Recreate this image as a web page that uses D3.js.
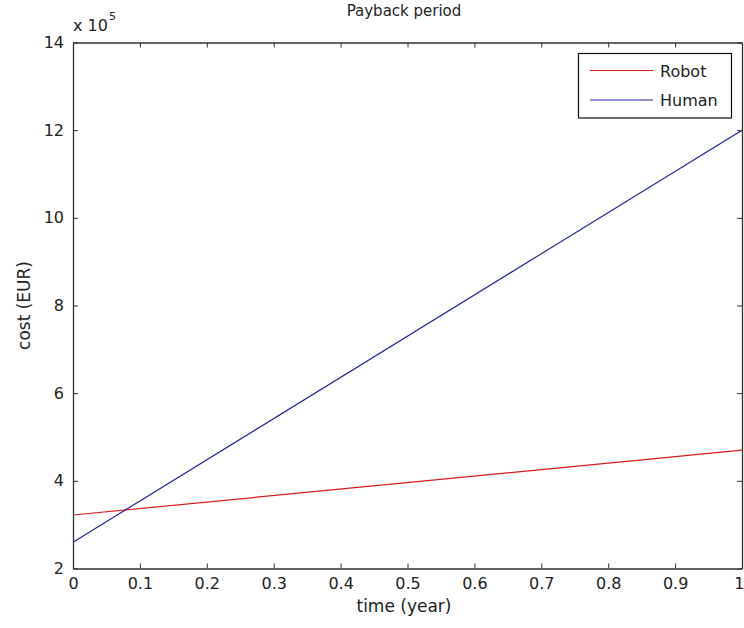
<!DOCTYPE html>
<html>
<head>
<meta charset="utf-8">
<script src="https://cdn.jsdelivr.net/npm/d3@7"></script>
<style>
  body { margin: 0; background: #fff; }
  text { font-family: "DejaVu Sans", sans-serif; fill: #222; }
</style>
</head>
<body>
<svg id="chart" width="744" height="628"></svg>
<script>
const years = [0, 1];
const robotCost = [322000, 470000];
const humanCost = [260000, 1200000];
const xTicks = [0, 0.1, 0.2, 0.3, 0.4, 0.5, 0.6, 0.7, 0.8, 0.9, 1];
const yTicks = [2, 4, 6, 8, 10, 12, 14];
const seriesNames = ["Robot", "Human"];
const seriesColors = ["#e01a1a", "#25259c"];

const svg = d3.select("#chart");
const margin = {left: 73, right: 2, top: 42.5, bottom: 59.5};
const width = 744, height = 628;

const x = d3.scaleLinear().domain([0, 1]).range([margin.left, width - margin.right]);
const y = d3.scaleLinear().domain([2e5, 14e5]).range([height - margin.bottom, margin.top]);

const g = svg.append("g");

// lines
const line = d3.line().x(d => x(d[0])).y(d => y(d[1]));
const series = [robotCost, humanCost].map(vals => years.map((t, i) => [t, vals[i]]));
series.forEach((s, i) => {
  g.append("path")
    .datum(s)
    .attr("fill", "none")
    .attr("stroke", seriesColors[i])
    .attr("stroke-width", 1.2)
    .attr("d", line);
});

// axes (matlab box style, ticks inward)
const axisColor = "#333";
const fmtX = d => d3.format("~g")(d);
const xb = g.append("g").attr("transform", `translate(0,${y.range()[0]})`)
  .call(d3.axisBottom(x).tickValues(xTicks).tickFormat(fmtX).tickSizeInner(-5).tickSizeOuter(0).tickPadding(9));
const xt = g.append("g").attr("transform", `translate(0,${y.range()[1]})`)
  .call(d3.axisTop(x).tickValues(xTicks).tickFormat("").tickSizeInner(-5).tickSizeOuter(0));
const yl = g.append("g").attr("transform", `translate(${x.range()[0]},0)`)
  .call(d3.axisLeft(y).tickValues(yTicks.map(v => v * 1e5)).tickFormat(d => d / 1e5).tickSizeInner(-5).tickSizeOuter(0).tickPadding(9));
const yr = g.append("g").attr("transform", `translate(${x.range()[1]},0)`)
  .call(d3.axisRight(y).tickValues(yTicks.map(v => v * 1e5)).tickFormat("").tickSizeInner(-5).tickSizeOuter(0));

[xb, xt, yl, yr].forEach(a => {
  a.select(".domain").attr("stroke", axisColor).attr("stroke-width", 1.3);
  a.selectAll(".tick line").attr("stroke", axisColor);
  a.selectAll("text").style("font-size", "16px").style("font-family", "DejaVu Sans").attr("fill", "#222");
});
// last x label sits at the right edge, keep it inside the page
xb.selectAll(".tick text").filter(d => d === 1).attr("text-anchor", "end").attr("x", 2);

// exponent label
const expo = g.append("text")
  .attr("x", margin.left)
  .attr("y", 31)
  .style("font-size", "16px");
expo.append("tspan").text("x 10");
expo.append("tspan").attr("dy", -11).attr("dx", 1).style("font-size", "11px").text("5");

// title and labels
g.append("text")
  .attr("x", 404).attr("y", 16)
  .attr("text-anchor", "middle")
  .style("font-size", "15px")
  .text("Payback period");

g.append("text")
  .attr("x", 404).attr("y", 612)
  .attr("text-anchor", "middle")
  .style("font-size", "17px")
  .text("time (year)");

g.append("text")
  .attr("transform", `translate(30,${(y.range()[0] + y.range()[1]) / 2}) rotate(-90)`)
  .attr("text-anchor", "middle")
  .style("font-size", "17px")
  .text("cost (EUR)");

// legend
const legend = g.append("g");
legend.append("rect")
  .attr("x", 578.5).attr("y", 53.5)
  .attr("width", 153).attr("height", 64.5)
  .attr("fill", "#fff")
  .attr("stroke", "#111")
  .attr("stroke-width", 1.2);
seriesNames.forEach((name, i) => {
  const ly = 70.5 + i * 29.5;
  legend.append("line")
    .attr("x1", 590).attr("x2", 653)
    .attr("y1", ly).attr("y2", ly)
    .attr("stroke", seriesColors[i])
    .attr("stroke-width", 1.2);
  legend.append("text")
    .attr("x", 660).attr("y", ly + 6)
    .style("font-size", "16px")
    .text(name);
});
</script>
</body>
</html>
